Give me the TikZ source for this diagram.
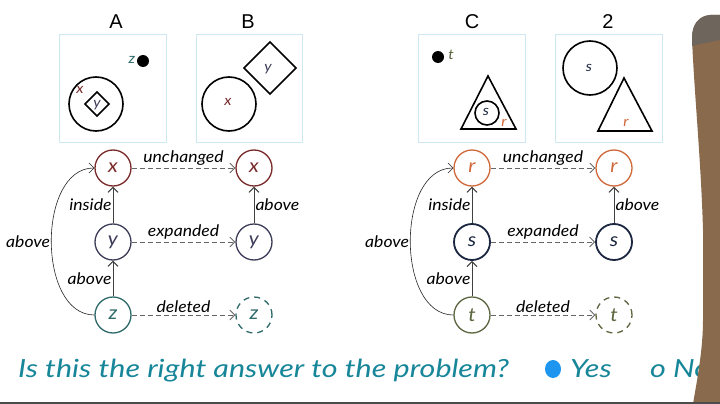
\documentclass[tikz,border=0pt]{standalone}
\usepackage{fontspec}
\setmainfont{Liberation Sans}
\newfontfamily\hand{Lato}[FakeStretch=1.1]
\newfontfamily\handwide{Lato}[FakeStretch=1.22]
\usetikzlibrary{arrows.meta}
\definecolor{boxblue}{HTML}{CFE9F2}
\definecolor{xred}{HTML}{7A2A2A}
\definecolor{yslate}{HTML}{3C3C58}
\definecolor{zteal}{HTML}{2F6A6A}
\definecolor{rorange}{HTML}{D0683A}
\definecolor{snavy}{HTML}{1B2740}
\definecolor{tolive}{HTML}{5C6640}
\definecolor{qteal}{HTML}{178699}
\definecolor{dotblue}{HTML}{1E96F0}
\definecolor{armbrown}{HTML}{8A6A4C}
\definecolor{armtop}{HTML}{6E655C}
\begin{document}
\begin{tikzpicture}[x=1pt,y=-1pt,
  panel/.style={draw=boxblue, line width=1pt},
  ptitle/.style={font=\fontsize{20}{20}\selectfont},
  shp/.style={draw=black, line width=1.6pt},
  small/.style={font=\hand\itshape\fontsize{14}{14}\selectfont, inner sep=0pt},
  gnode/.style={circle, draw, line width=1.3pt, minimum size=36pt, inner sep=0pt, font=\hand\itshape\fontsize{19}{19}\selectfont},
  gone/.style={gnode, dash pattern=on 6pt off 5pt},
  elabel/.style={font=\hand\itshape\fontsize{16}{16}\selectfont, text=black, inner sep=1pt},
  maparrow/.style={draw=black!60, dash pattern=on 5pt off 3pt, line width=0.8pt, -{Straight Barb[length=5pt]}},
  relarrow/.style={draw=black!75, line width=1pt, -{Straight Barb[length=5pt]}},
  curvearrow/.style={draw=black!85, line width=0.6pt, -{Straight Barb[length=5pt]}},
  question/.style={font=\handwide\itshape\fontsize{25}{25}\selectfont, text=qteal, inner sep=0pt}
]
\useasboundingbox (0,0) rectangle (720,404);
\fill[white] (0,0) rectangle (720,404);

% titles
\node[ptitle] (tA) at (116,22) {A};
\node[ptitle] (tB) at (248,22) {B};
\node[ptitle] (tC) at (472,22) {C};
\node[ptitle] (t2) at (608,22) {2};

% panels
\draw[panel] (59,35) rectangle (166,142);
\draw[panel] (196,35) rectangle (302,142);
\draw[panel] (418,35) rectangle (525,142);
\draw[panel] (555,35) rectangle (662,142);

% panel A
\draw[shp] (96,104) circle (27);
\draw[shp] (97,92) -- (109,104) -- (97,116) -- (85,104) -- cycle;
\node[small, text=yslate] (Ay) at (97,105) {y};
\node[small, text=xred] (Ax) at (80,90) {x};
\fill[black] (143,61) circle (6);
\node[small, text=zteal] (Az) at (132,60) {z};

% panel B
\draw[shp] (229,104) circle (27);
\node[small, text=xred] (Bx) at (228,102) {x};
\draw[shp] (270,42) -- (296,68) -- (270,94) -- (244,68) -- cycle;
\node[small, text=yslate] (By) at (268,69) {y};

% panel C
\fill[black] (438,57) circle (6);
\node[small, text=tolive] (Ct) at (451,55) {t};
\draw[shp] (488,76) -- (516,129) -- (461,129) -- cycle;
\draw[shp] (487,113) circle (12);
\node[small, text=snavy] (Cs) at (486,112) {s};
\node[small, text=rorange] (Cr) at (504,123) {r};

% panel 2
\draw[shp] (590,68) circle (27);
\node[small, text=snavy] (Ds) at (589,68) {s};
\draw[shp] (624,78) -- (652,131) -- (598,131) -- cycle;
\node[small, text=rorange] (Dr) at (626,123) {r};

% left graph
\node[gnode, draw=xred, text=xred] (x1) at (113,168) {x};
\node[gnode, draw=yslate, text=yslate] (y1) at (113,242) {y};
\node[gnode, draw=zteal, text=zteal] (z1) at (113,315) {z};
\node[gnode, draw=xred, text=xred] (x2) at (254,168) {x};
\node[gnode, draw=yslate, text=yslate] (y2) at (254,242) {y};
\node[gone, draw=zteal, text=zteal] (z2) at (254,315) {z};

\draw[maparrow] (x1) -- node[elabel, above=1pt] {unchanged} (x2);
\draw[maparrow] (y1) -- node[elabel, above=1pt] {expanded} (y2);
\draw[maparrow] (z1) -- node[elabel, above=1pt] {deleted} (z2);
\draw[relarrow] (y1) -- node[elabel, left] {inside} (x1);
\draw[relarrow] (z1) -- node[elabel, left] {above} (y1);
\draw[relarrow] (y2) -- node[elabel, right] {above} (x2);
\draw[curvearrow] (z1.west) to[out=180, in=180] node[elabel, left] {above} (x1.west);

% right graph
\node[gnode, draw=rorange, text=rorange] (r1) at (472,168) {r};
\node[gnode, draw=snavy, text=snavy, line width=1.8pt] (s1) at (472,242) {s};
\node[gnode, draw=tolive, text=tolive] (tt1) at (472,315) {t};
\node[gnode, draw=rorange, text=rorange] (r2) at (614,168) {r};
\node[gnode, draw=snavy, text=snavy, line width=1.8pt] (s2) at (614,242) {s};
\node[gone, draw=tolive, text=tolive] (tt2) at (614,315) {t};

\draw[maparrow] (r1) -- node[elabel, above=1pt] {unchanged} (r2);
\draw[maparrow] (s1) -- node[elabel, above=1pt] {expanded} (s2);
\draw[maparrow] (tt1) -- node[elabel, above=1pt] {deleted} (tt2);
\draw[relarrow] (s1) -- node[elabel, left] {inside} (r1);
\draw[relarrow] (tt1) -- node[elabel, left] {above} (s1);
\draw[relarrow] (s2) -- node[elabel, right] {above} (r2);
\draw[curvearrow] (tt1.west) to[out=180, in=180] node[elabel, left] {above} (r1.west);

% question
\node[question, anchor=base west] (q) at (18,377) {Is this the right answer to the problem?};
\fill[dotblue] (553,369) ellipse (8 and 9);
\node[question, anchor=base west] (yes) at (570,377) {Yes};
\node[question, anchor=base west] (no) at (650,377) {o No};

% arm at the right edge
\fill[armbrown] (693,404) .. controls (697,380) and (703,350) .. (703,320) -- (703,230) .. controls (701,160) and (694,90) .. (692,38) .. controls (692,24) and (699,16) .. (710,15) -- (720,15) -- (720,404) -- cycle;
\fill[armtop] (692,38) .. controls (692,24) and (699,16) .. (710,15) -- (720,15) -- (720,40) .. controls (710,42) and (700,44) .. (692,46) -- cycle;

% bottom edge line
\fill[black!70] (0,402) rectangle (720,404);
\end{tikzpicture}
\end{document}
